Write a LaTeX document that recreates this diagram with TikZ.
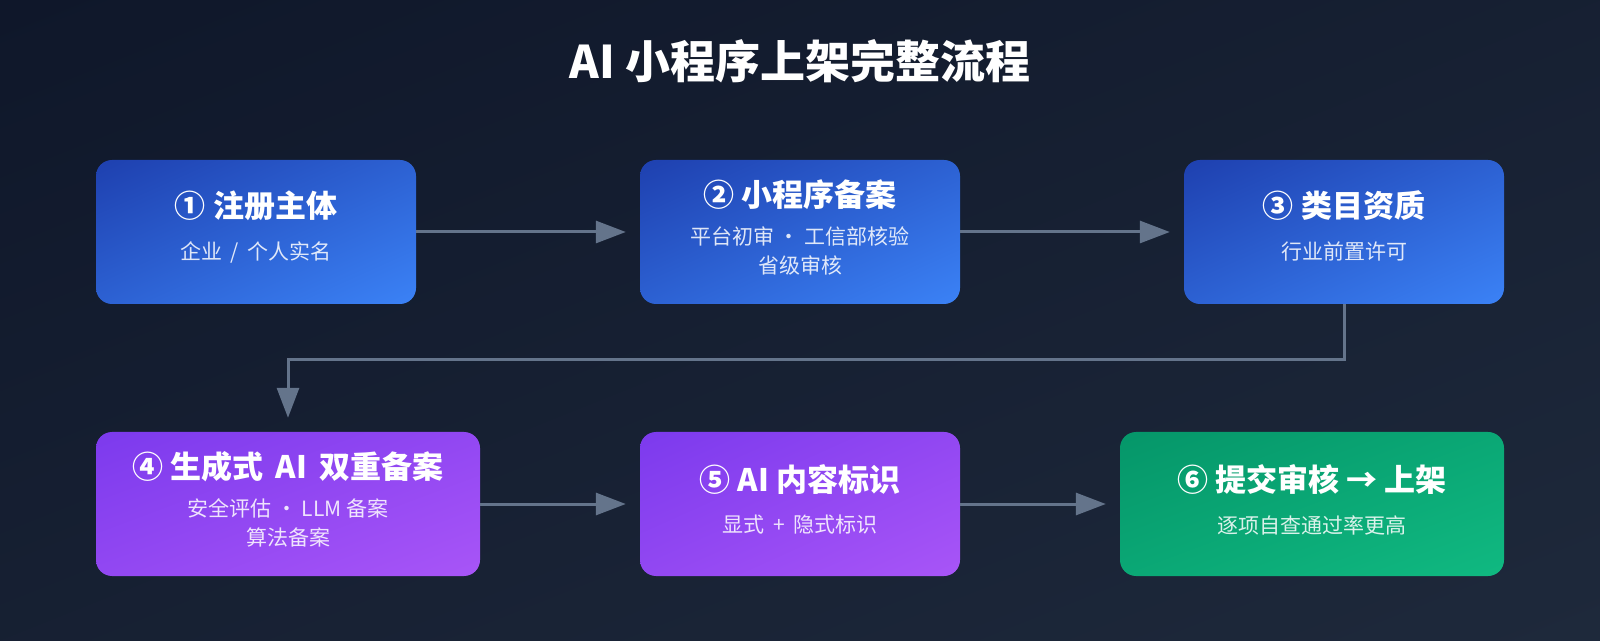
\documentclass[tikz,border=0pt]{standalone}
\usepackage{fontspec}
\setmainfont{Noto Sans CJK SC}
\usetikzlibrary{arrows.meta,shadings}
\definecolor{bgtop}{HTML}{0F172A}
\definecolor{bgbottom}{HTML}{1E293B}
\definecolor{bluedark}{HTML}{1E40AF}
\definecolor{bluelight}{HTML}{3B82F6}
\definecolor{violetdark}{HTML}{7C3AED}
\definecolor{violetlight}{HTML}{A855F7}
\definecolor{greendark}{HTML}{059669}
\definecolor{greenlight}{HTML}{10B981}
\definecolor{linegray}{HTML}{64748B}

\begin{document}
\begin{tikzpicture}[x=1pt, y=1pt,
  stagebox/.style={minimum width=320pt, minimum height=144pt, inner sep=0pt, rounded corners=16pt},
  widebox/.style={stagebox, minimum width=384pt},
  bluefill/.style={upper left=bluedark, lower right=bluelight, upper right=bluedark!50!bluelight, lower left=bluedark!50!bluelight},
  violetfill/.style={upper left=violetdark, lower right=violetlight, upper right=violetdark!50!violetlight, lower left=violetdark!50!violetlight},
  greenfill/.style={upper left=greendark, lower right=greenlight, upper right=greendark!50!greenlight, lower left=greendark!50!greenlight},
  stagetitle/.style={text=white, font={\fontsize{31}{37}\selectfont\bfseries}},
  stagenote/.style={text=white, text opacity=0.85, font={\fontsize{21}{25}\selectfont}},
  flow/.style={draw=linegray, line width=3pt, line join=miter, -{Triangle[length=30pt, width=22pt]}, shorten >=14pt}
]

  % Background
  \shade[upper left=bgtop, lower right=bgbottom, upper right=bgtop!50!bgbottom, lower left=bgtop!50!bgbottom] (0,0) rectangle (1600,640);
  \useasboundingbox (0,0) rectangle (1600,640);

  % Title
  \node[text=white, font={\fontsize{45}{54}\selectfont\bfseries}] (title) at (800,579) {AI 小程序上架完整流程};

  % Row 1
  \node[stagebox, bluefill] (s1) at (256,408) {};
  \node[stagetitle] (s1t) at ([yshift=26]s1.center) {① 注册主体};
  \node[stagenote] (s1n) at ([yshift=-20]s1.center) {企业 \,/\, 个人实名};

  \node[stagebox, bluefill] (s2) at (800,408) {};
  \node[stagetitle] (s2t) at ([yshift=37]s2.center) {② 小程序备案};
  \node[stagenote] (s2n) at ([yshift=-4]s2.center) {平台初审 · 工信部核验};
  \node[stagenote] (s2m) at ([yshift=-33]s2.center) {省级审核};

  \node[stagebox, bluefill] (s3) at (1344,408) {};
  \node[stagetitle] (s3t) at ([yshift=26]s3.center) {③ 类目资质};
  \node[stagenote] (s3n) at ([yshift=-20]s3.center) {行业前置许可};

  % Row 2
  \node[widebox, violetfill] (s4) at (288,136) {};
  \node[stagetitle] (s4t) at ([yshift=37]s4.center) {④ 生成式 \,AI\, 双重备案};
  \node[stagenote] (s4n) at ([yshift=-4]s4.center) {安全评估 · LLM 备案};
  \node[stagenote] (s4m) at ([yshift=-33]s4.center) {算法备案};

  \node[stagebox, violetfill] (s5) at (800,136) {};
  \node[stagetitle] (s5t) at ([yshift=24]s5.center) {⑤ AI 内容标识};
  \node[stagenote] (s5n) at ([yshift=-21]s5.center) {显式 \,+\, 隐式标识};

  \node[widebox, greenfill] (s6) at (1312,136) {};
  \node[stagetitle] (s6t) at ([yshift=24]s6.center) {⑥ 提交审核 → 上架};
  \node[stagenote] (s6n) at ([yshift=-21]s6.center) {逐项自查通过率更高};

  % Connectors
  \draw[flow] (s1.east) -- (s2.west);
  \draw[flow] (s2.east) -- (s3.west);
  \draw[flow] (s3.south) -- ++(0,-55) -| (s4.north);
  \draw[flow] (s4.east) -- (s5.west);
  \draw[flow] (s5.east) -- (s6.west);

\end{tikzpicture}
\end{document}
